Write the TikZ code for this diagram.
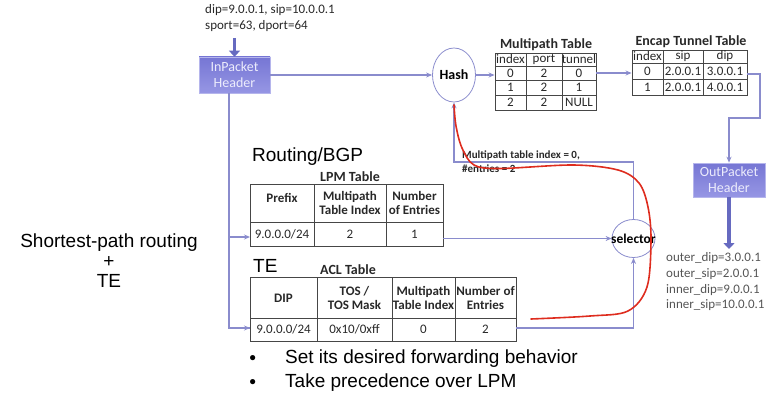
\documentclass[tikz,border=0pt]{standalone}
\usepackage{fontspec}
\setmainfont{Liberation Sans}
\newfontfamily\calfont{Carlito}
\usetikzlibrary{arrows.meta,shapes.geometric,calc}
\definecolor{flowc}{RGB}{138,140,205}
\definecolor{thickc}{RGB}{102,106,192}
\definecolor{boxtop}{RGB}{118,118,212}
\definecolor{boxbot}{RGB}{150,150,228}
\definecolor{boxtext}{RGB}{236,236,252}
\definecolor{tblc}{RGB}{70,70,70}
\definecolor{redc}{RGB}{222,44,30}
\definecolor{txtc}{RGB}{40,40,40}
\definecolor{outc}{RGB}{85,85,85}
\tikzset{
  flow/.style={draw=flowc, line width=1.6pt, -{Stealth[length=6pt,width=5pt]}},
  flowline/.style={draw=flowc, line width=1.6pt},
  thickarrow/.style={draw=thickc, line width=3.6pt, -{Triangle[length=6pt,width=11pt]}},
  pktbox/.style={draw=boxbot!70!white, line width=0.6pt, top color=boxtop, bottom color=boxbot,
    text=boxtext, font=\calfont\fontsize{14}{16}\selectfont, align=center, inner sep=0pt},
  tblbox/.style={draw=tblc, line width=0.9pt, inner sep=0pt},
  tblline/.style={draw=tblc, line width=0.9pt},
  cell/.style={font=\calfont\fontsize{13}{14}\selectfont, text=txtc, inner sep=0pt, align=center},
  hcell/.style={font=\calfont\bfseries\fontsize{13}{14.5}\selectfont, text=txtc, inner sep=0pt, align=center},
  ttl/.style={font=\calfont\bfseries\fontsize{14}{16}\selectfont, text=txtc, inner sep=0pt},
  big/.style={font=\fontsize{19}{21}\selectfont, text=black, inner sep=0pt},
  oval/.style={ellipse, draw=flowc, line width=0.8pt, fill=white, inner sep=0pt,
    font=\calfont\bfseries, text=black},
  outtxt/.style={font=\calfont\fontsize{13}{15}\selectfont, text=outc, inner sep=0pt, anchor=west},
}
\begin{document}
\begin{tikzpicture}[x=1pt,y=-1pt]
\useasboundingbox (0,0) rectangle (769,396);

% top input text
\node[font=\calfont\fontsize{13}{16}\selectfont, text=txtc, anchor=north west, align=left, inner sep=0pt] (intxt) at (205,4)
  {dip=9.0.0.1, sip=10.0.0.1\\sport=63, dport=64};

% packet boxes
\node[pktbox, minimum width=71pt, minimum height=36pt] (inpkt) at (234.5,75) {InPacket\\Header};
\node[pktbox, minimum width=72pt, minimum height=34pt] (outpkt) at (729,180) {OutPacket\\Header};

% ovals
\node[oval, minimum width=43pt, minimum height=54pt, font=\calfont\bfseries\fontsize{14}{16}\selectfont] (hash) at (454,75) {Hash};
\node[oval, minimum width=43pt, minimum height=38pt] (sel) at (633.5,238.5) {};
\node[font=\calfont\bfseries\fontsize{13.5}{15}\selectfont, text=black, inner sep=0pt] (seltxt) at (sel.center) {selector};

% ---------- Multipath table ----------
\node[ttl] (mpttl) at (546,45) {Multipath Table};
\node[tblbox, minimum width=101pt, minimum height=57pt] (mpt) at (545.5,81.5) {};
\draw[tblline] (526,53) -- (526,110) (562,53) -- (562,110)
  (495,66) -- (596,66) (495,80) -- (596,80) (495,95) -- (596,95);
\node[cell] (mp11) at (510.5,59.5) {index};
\node[cell] (mp12) at (544,59.5) {port};
\node[cell] (mp13) at (579,59.5) {tunnel};
\node[cell] (mp21) at (510.5,73) {0};
\node[cell] (mp22) at (544,73) {2};
\node[cell] (mp23) at (579,73) {0};
\node[cell] (mp31) at (510.5,87.5) {1};
\node[cell] (mp32) at (544,87.5) {2};
\node[cell] (mp33) at (579,87.5) {1};
\node[cell] (mp41) at (510.5,102.5) {2};
\node[cell] (mp42) at (544,102.5) {2};
\node[cell] (mp43) at (579,102.5) {NULL};

% ---------- Encap tunnel table ----------
\node[ttl] (ecttl) at (691,42) {Encap Tunnel Table};
\node[tblbox, minimum width=115pt, minimum height=45pt] (ect) at (689.5,72.5) {};
\draw[tblline] (663,50) -- (663,95) (703,50) -- (703,95)
  (632,63) -- (747,63) (632,79) -- (747,79);
\node[cell] (ec11) at (647.5,56.5) {index};
\node[cell] (ec12) at (683,56.5) {sip};
\node[cell] (ec13) at (725,56.5) {dip};
\node[cell] (ec21) at (647.5,71) {0};
\node[cell] (ec22) at (683,71) {2.0.0.1};
\node[cell] (ec23) at (725,71) {3.0.0.1};
\node[cell] (ec31) at (647.5,87) {1};
\node[cell] (ec32) at (683,87) {2.0.0.1};
\node[cell] (ec33) at (725,87) {4.0.0.1};

% ---------- LPM table ----------
\node[big, anchor=west] (rbgp) at (252,157) {Routing/BGP};
\node[ttl] (lpmttl) at (350,177) {LPM Table};
\node[tblbox, minimum width=193pt, minimum height=62pt] (lpm) at (346.5,215) {};
\draw[tblline] (314,184) -- (314,246) (386,184) -- (386,246) (250,222) -- (443,222);
\node[hcell] (lp11) at (282,198) {Prefix};
\node[hcell] (lp12) at (350,203) {Multipath\\Table Index};
\node[hcell] (lp13) at (414.5,203) {Number\\of Entries};
\node[cell] (lp21) at (282,234.5) {9.0.0.0/24};
\node[cell] (lp22) at (350,234.5) {2};
\node[cell] (lp23) at (414.5,234.5) {1};

% ---------- ACL table ----------
\node[big, anchor=west] (te) at (253,266) {TE};
\node[ttl] (aclttl) at (348,270) {ACL Table};
\node[tblbox, minimum width=266pt, minimum height=64pt] (acl) at (383,309) {};
\draw[tblline] (317,277) -- (317,341) (392,277) -- (392,341) (455,277) -- (455,341) (250,318) -- (516,318);
\node[hcell] (ac11) at (283.5,298) {DIP};
\node[hcell] (ac12) at (354.5,298) {TOS /\\TOS Mask};
\node[hcell] (ac13) at (423.5,298) {Multipath\\Table Index};
\node[hcell] (ac14) at (485.5,298) {Number of\\Entries};
\node[cell] (ac21) at (283.5,329.5) {9.0.0.0/24};
\node[cell] (ac22) at (354.5,329.5) {0x10/0xff};
\node[cell] (ac23) at (423.5,329.5) {0};
\node[cell] (ac24) at (485.5,329.5) {2};

% ---------- output header text ----------
\node[outtxt] (o1) at (666,258) {outer\_dip=3.0.0.1};
\node[outtxt] (o2) at (666,274) {outer\_sip=2.0.0.1};
\node[outtxt] (o3) at (666,290) {inner\_dip=9.0.0.1};
\node[outtxt] (o4) at (666,305.5) {inner\_sip=10.0.0.1};

% loop label
\node[font=\calfont\bfseries\fontsize{11}{14}\selectfont, text=txtc, anchor=north west, align=left, inner sep=0pt] (looplbl) at (462,151)
  {Multipath table index = 0,\\\#entries = 2};

% left text
\node[big, align=center] (spr) at (109,261) {Shortest-path routing\\[-1pt]+\\[-1pt]TE};

% bullets
\node[big, anchor=west] (b1) at (249,359) {\fontsize{12}{14}\selectfont●};
\node[big, anchor=west] (t1) at (285,359) {Set its desired forwarding behavior};
\node[big, anchor=west] (b2) at (249,383) {\fontsize{12}{14}\selectfont●};
\node[big, anchor=west] (t2) at (285,383) {Take precedence over LPM};

% ---------- connectors ----------
\coordinate (intop) at (234.5,38);
\draw[thickarrow] (intop) -- (inpkt.north);
\draw[flow] (inpkt.east) -- (hash.west);
\draw[flow] (hash.east) -- (hash.east -| mpt.west);
\coordinate (mpout) at (596,73);
\draw[flow] (mpout) -- (mpout -| ect.west);
\coordinate (ecout) at (747,74);
\coordinate (ecr) at (760,74);
\coordinate (ecd) at (760,118);
\draw[flow] (ecout) -- (ecr) -- (ecd) -| (outpkt.north);
\coordinate (outend) at (729,249);
\draw[thickarrow] (outpkt.south) -- (outend);

\coordinate (vtop) at (229,93);
\coordinate (lpmin) at (250,237);
\coordinate (aclin) at (250,328);
\draw[flowline] (vtop) |- (aclin);
\draw[flow] (vtop |- lpmin) -- (lpmin);
\draw[flow] (vtop |- aclin) -- (aclin);

\coordinate (lpmout) at (443,238.5);
\draw[flow] (lpmout) -- (sel.west);
\coordinate (aclout) at (516,328);
\draw[flow] (aclout) -| (sel.south);
\coordinate (loopc) at (454,162);
\draw[flow] (sel.north) |- (loopc) -- (hash.south);

% red hand-drawn curve
\draw[redc, line width=1.6pt, line cap=round] plot[smooth, tension=0.55] coordinates {
  (454,105) (456,126) (462,148) (474,165) (500,168.5) (573,165) (618,170) (639,183)
  (648,207) (651,240) (647,287) (628,311) (590,316) (531,319)};
\end{tikzpicture}
\end{document}
